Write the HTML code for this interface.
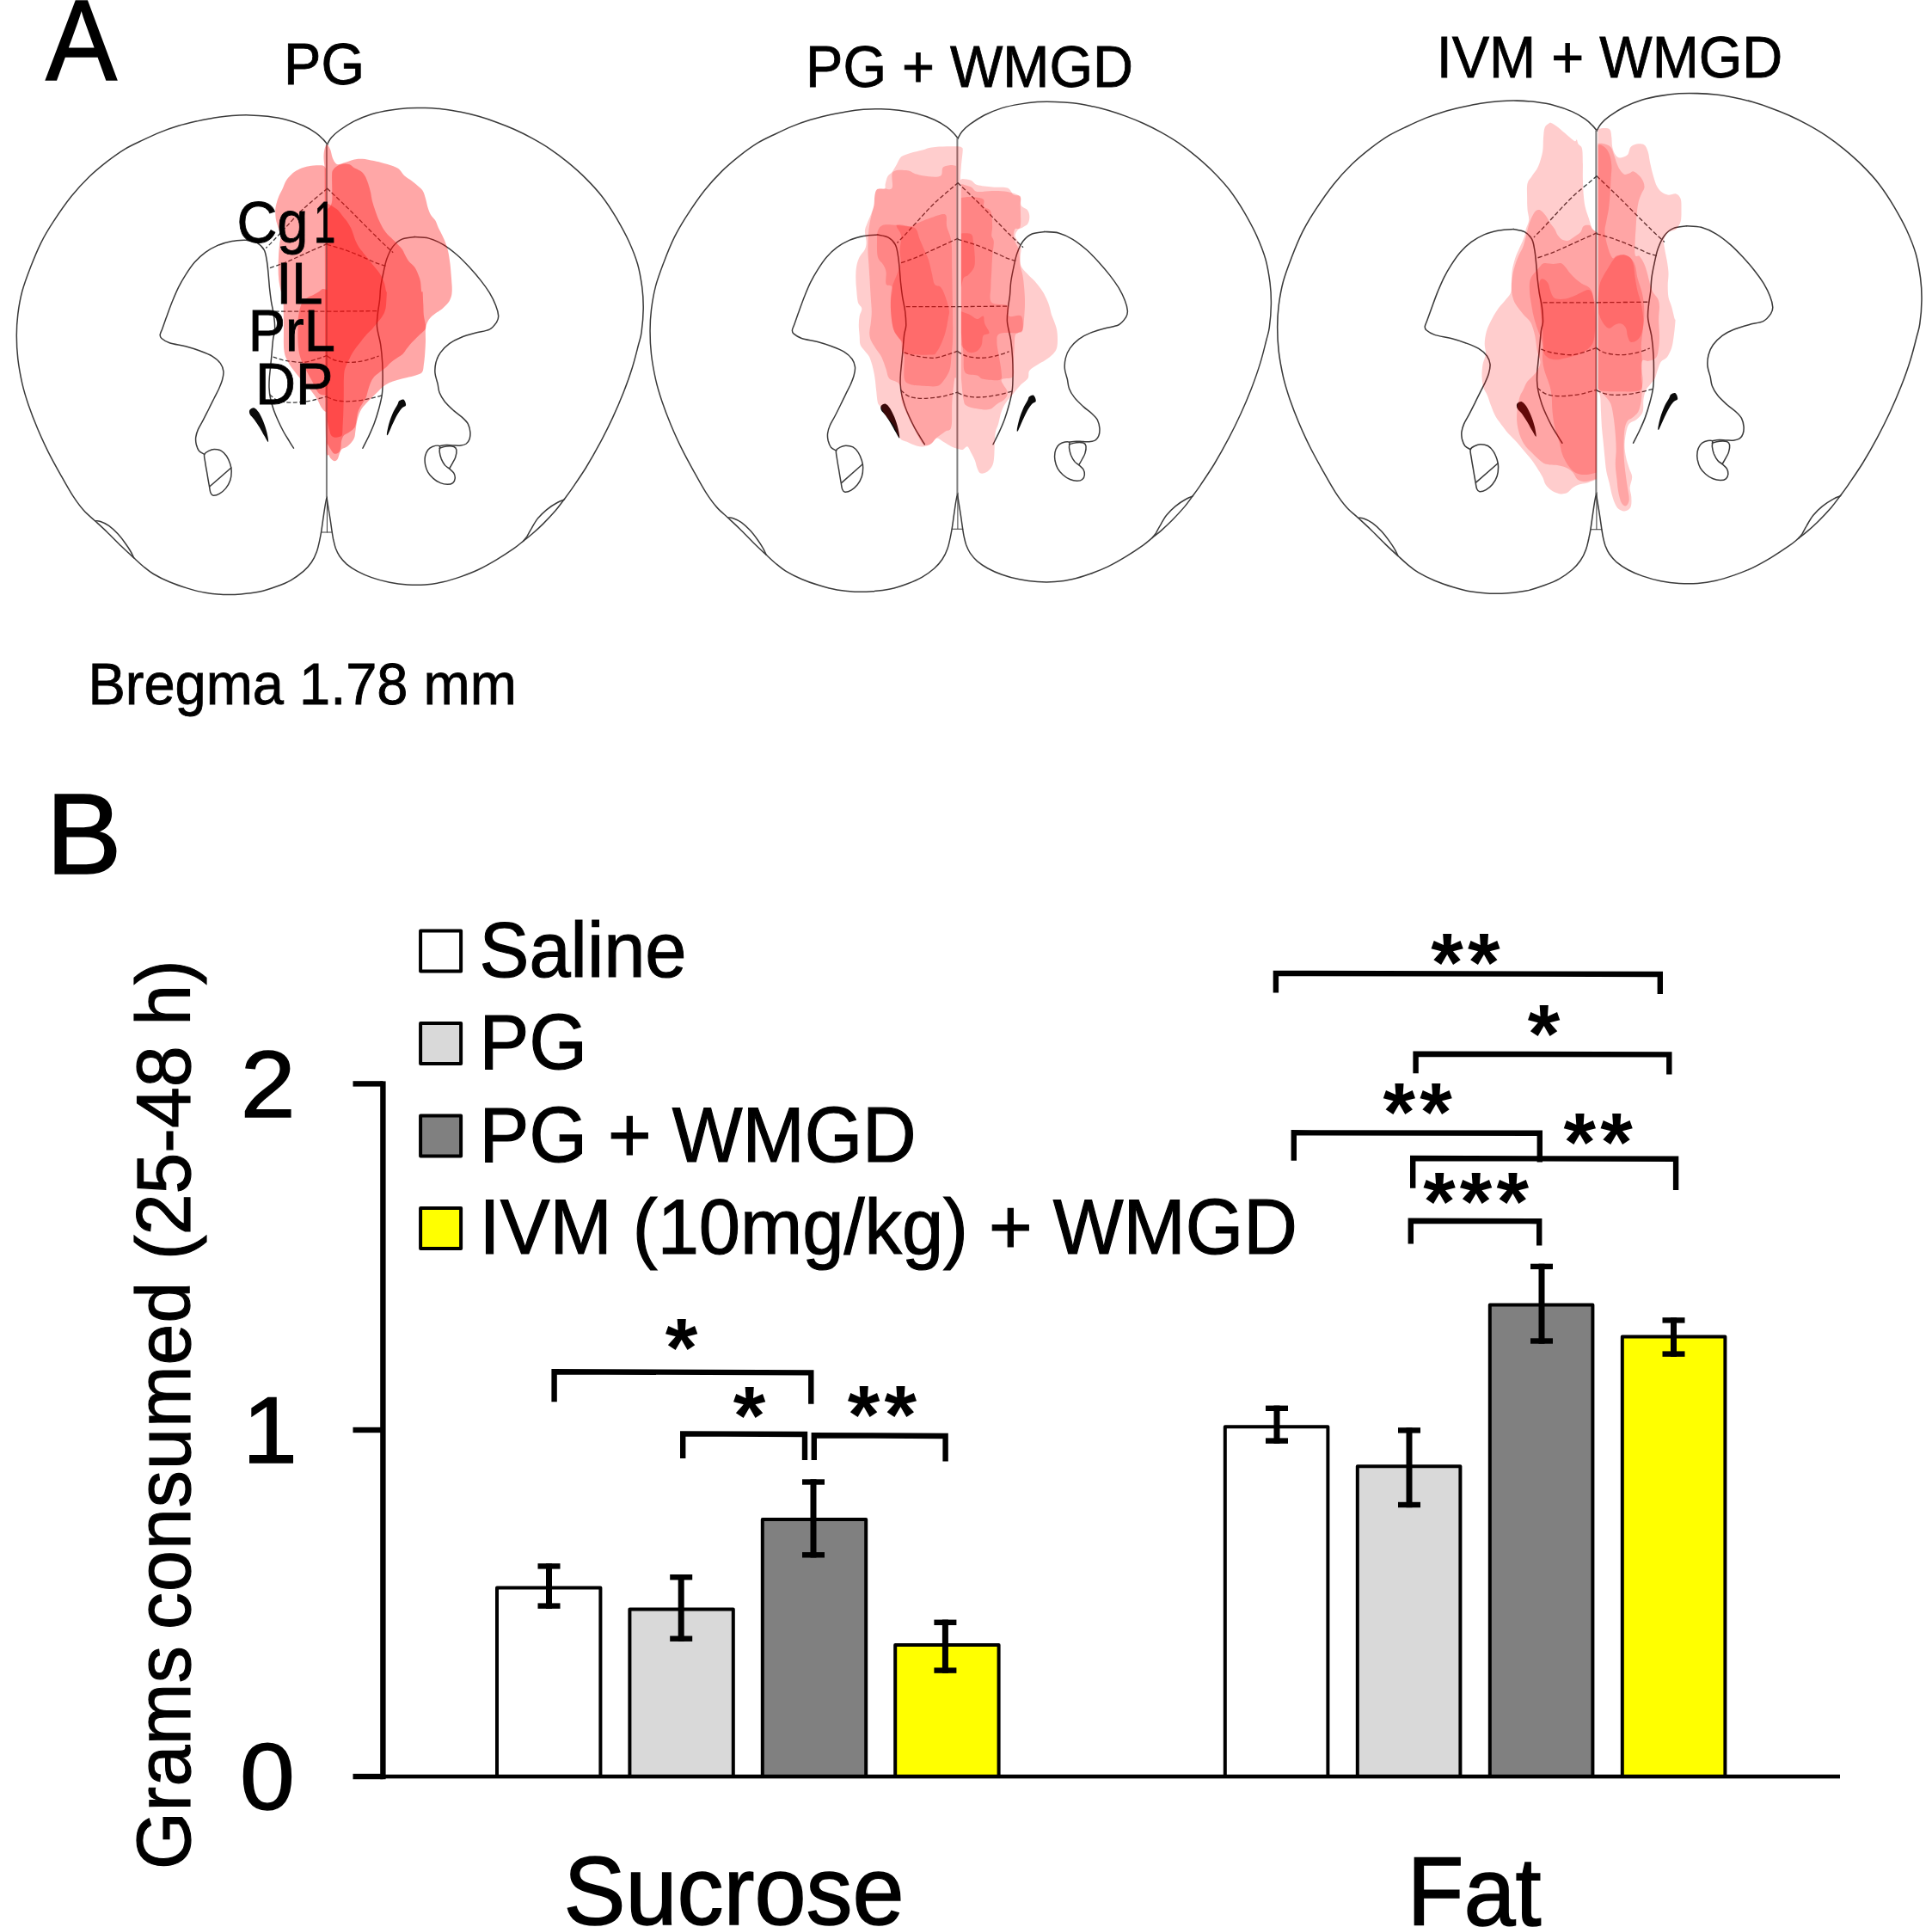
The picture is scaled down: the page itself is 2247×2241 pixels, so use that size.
<!DOCTYPE html>
<html lang="en"><head><meta charset="utf-8"><title>Figure</title>
<style>
html,body{margin:0;padding:0;background:#fff;}
body{width:2247px;height:2241px;overflow:hidden;}
svg{display:block;}
text{font-family:'Liberation Sans', sans-serif;fill:#000;}
.b{font-weight:bold;}
</style></head><body>
<svg width="2247" height="2241" viewBox="0 0 2247 2241">
<rect width="2247" height="2241" fill="#fff"/>
<defs><g id="atlas"><g fill="none" stroke="#3a3a3a" stroke-width="1.5" stroke-linecap="round" stroke-linejoin="round"><path d="M380.9,168.1C380,167.1 378,164.1 375.7,161.9C373.5,159.6 371.2,157.2 367.4,154.6C363.6,152 358.8,148.9 352.9,146.3C347,143.7 339,140.9 332.1,139.1C325.2,137.2 318.3,136.2 311.4,135.3C304.4,134.5 297.5,134 290.6,133.9C283.7,133.7 276.8,134 269.8,134.5C262.9,135 256,135.9 249.1,137C242.2,138.1 235.3,139.6 228.3,141.1C221.4,142.7 214.5,144.3 207.6,146.3C200.7,148.4 193.7,150.8 186.8,153.6C179.9,156.4 173,159.6 166.1,162.9C159.1,166.2 152.2,169.2 145.3,173.3C138.4,177.5 131.5,182.5 124.5,187.8C117.6,193.2 110.7,198.7 103.8,205.5C96.9,212.2 89.9,219.7 83,228.3C76.1,237 68.2,248.4 62.3,257.4C56.4,266.4 52.2,273.3 47.7,282.3C43.2,291.3 38.9,302 35.3,311.3C31.7,320.7 28.4,329.3 25.9,338.3C23.5,347.3 21.9,356.7 20.8,365.3C19.7,374 19.3,381.6 19.3,390.2C19.3,398.9 19.7,408 20.8,417.4C21.9,426.7 23.9,437.4 25.9,446.4C28,455.4 30.3,462.7 33.2,471.3C36.2,480 39.8,489.3 43.6,498.3C47.4,507.3 51.5,516.3 56,525.3C60.5,534.3 65.7,543.6 70.6,552.3C75.4,560.9 80.6,570.3 85.1,577.2C89.6,584.1 93.2,589 97.6,593.8C101.9,598.6 106.6,602.1 111.1,606.3C115.6,610.4 119.5,613.9 124.5,618.7C129.6,623.6 136,630.3 141.2,635.3C146.3,640.3 151.5,645 155.7,648.8C159.8,652.6 162.3,655 166.1,658.2C169.9,661.3 173.3,664.4 178.5,667.5C183.7,670.6 190.6,674.1 197.2,676.8C203.8,679.6 211,682 218,684.1C224.9,686.2 231.8,688.1 238.7,689.3C245.6,690.5 252.6,691.1 259.5,691.4C266.4,691.6 273.3,691.5 280.2,690.9C287.1,690.4 294.1,689.7 301,688.3C307.9,686.8 315.5,684.3 321.7,682C328,679.8 333.2,677.7 338.3,674.8C343.5,671.8 348.9,667.8 352.9,664.4C356.9,660.9 359.6,657.8 362.2,654C364.8,650.2 366.9,645.7 368.4,641.5C370,637.4 370.7,632.9 371.6,629.1C372.4,625.3 372.9,622.9 373.6,618.7C374.3,614.6 375,609.4 375.7,604.2C376.5,599 377.4,592.1 378.2,587.6C379,583.1 379.9,578.9 380.3,577.2"/><path d="M380.4,168.1C381.2,166.7 383.1,162.6 385.6,159.8C388,157.1 390.6,154.6 394.9,151.5C399.2,148.4 405.3,144.3 411.5,141.1C417.7,138 425.4,135 432.3,132.8C439.2,130.7 446.1,129.4 453,128.3C459.9,127.1 466.9,126.2 473.8,125.8C480.7,125.3 487.6,125.4 494.5,125.6C501.5,125.8 508.4,126.2 515.3,127C522.2,127.8 529.1,129 536.1,130.3C543,131.7 549.9,133.4 556.8,135.3C563.7,137.3 570.7,139.6 577.6,142.2C584.5,144.7 591.4,147.4 598.3,150.5C605.3,153.6 612.2,157.1 619.1,160.9C626,164.7 632.9,168.6 639.8,173.3C646.8,178 653.7,183.2 660.6,188.9C667.5,194.6 674.8,201 681.4,207.6C687.9,214.1 694.2,220.7 700,228.3C705.9,235.9 711.5,244.6 716.7,253.2C721.8,261.9 727,271.2 731.2,280.2C735.3,289.2 739,298.2 741.6,307.2C744.2,316.2 745.6,325.5 746.8,334.2C747.9,342.8 748.3,350.4 748.2,359.1C748.1,367.7 747.1,379.1 746.1,386.1C745.2,393 744.4,393.8 742.6,400.8C740.8,407.7 738.3,418.4 735.3,427.7C732.4,437.1 728.8,447.1 725,456.8C721.2,466.5 717,476.2 712.5,485.9C708,495.6 703.2,505.2 698,514.9C692.8,524.6 686.9,535 681.4,544C675.8,553 668.9,562.8 664.8,568.9C660.6,574.9 659.6,576.2 656.5,580.3C653.3,584.5 650.2,589 646.1,593.8C641.9,598.6 636,604.9 631.5,609.4C627,613.9 622.9,617.5 619.1,620.8C615.3,624.1 612.2,626.3 608.7,629.1C605.3,631.9 603.5,633.8 598.3,637.4C593.1,641 584.5,646.7 577.6,650.9C570.7,655 563.7,659 556.8,662.3C549.9,665.6 543,668.2 536.1,670.6C529.1,673 522.2,675.3 515.3,676.8C508.4,678.4 501.5,679.4 494.5,679.9C487.6,680.5 480.7,680.4 473.8,679.9C466.9,679.5 459.9,678.6 453,677.2C446.1,675.9 438.5,673.8 432.3,671.6C426,669.5 420.5,667 415.7,664.4C410.8,661.8 406.7,659 403.2,656.1C399.8,653.1 397.1,649.8 394.9,646.7C392.8,643.6 391.6,640.7 390.3,637.4C389.1,634.1 388.3,630.1 387.6,627C387,623.9 386.8,622.5 386.2,618.7C385.6,614.9 384.9,609.4 384.1,604.2C383.3,599 382.1,591.9 381.4,587.6C380.7,583.3 380.2,579.8 380,578.2"/><path d="M111.1,605.8C111.9,605.9 113.6,605.3 116.2,606.3C118.8,607.2 123.2,609 126.6,611.4C130.1,613.9 133.9,617.5 137,620.8C140.1,624.1 142.9,627.9 145.3,631.2C147.7,634.5 149.8,637.6 151.5,640.5C153.3,643.4 155,647.4 155.7,648.8"/><path d="M656.5,580.9C655.1,581.5 651.6,582.5 648.2,584.5C644.7,586.4 639.5,589.7 635.7,592.8C631.9,595.9 628.3,599.5 625.3,603.1C622.4,606.8 620.1,611.1 618.1,614.6C616,618 614.4,621.5 612.9,623.9C611.3,626.3 609.4,628.2 608.7,629.1"/><path d="M286.5,279.2C283.7,279.4 275.4,279.6 269.8,280.6C264.3,281.7 258.4,283.2 253.2,285.4C248.1,287.6 243.2,290.4 238.7,293.7C234.2,297 230.1,300.8 226.3,305.1C222.5,309.4 219,314.8 215.9,319.7C212.8,324.5 210.2,329 207.6,334.2C205,339.4 202.6,345.3 200.3,350.8C198.1,356.3 196,362.2 194.1,367.4C192.2,372.6 190.2,378.3 188.9,381.9C187.6,385.6 186.4,387.3 186.2,389.2C186,391.1 186,391.9 187.9,393.5C189.7,395.1 192.5,397.1 197.2,398.7C201.9,400.2 210,401.3 215.9,402.8C221.8,404.4 227.3,406.1 232.5,408C237.7,409.9 243,411.8 247,414.3C251,416.7 254.2,419.6 256.4,422.6C258.5,425.5 259.5,428.6 259.9,431.9C260.2,435.2 259.4,438.8 258.4,442.3C257.5,445.7 255.8,449.2 254.3,452.7C252.7,456.1 251,459.2 249.1,463C247.2,466.8 244.9,471.3 242.9,475.5C240.8,479.6 238.7,484 236.6,487.9C234.6,491.9 231.9,495.9 230.4,499.4C228.9,502.8 228.1,505.8 227.7,508.7C227.4,511.6 227.7,514.4 228.3,517C229,519.6 229.9,522.4 231.4,524.3C233,526.2 236.6,527.7 237.7,528.4"/><path d="M286.5,279.2C288.5,279.7 295.5,280.4 298.9,282.3C302.4,284.2 305.3,287.1 307.2,290.6C309.1,294.1 309.5,298.5 310.3,303C311.1,307.5 311.5,312.4 312,317.6C312.5,322.8 312.9,328.6 313.4,334.2C314,339.7 314.7,345.3 315.5,350.8C316.4,356.3 317.9,361.9 318.6,367.4C319.3,372.9 319.8,379.5 319.7,384C319.5,388.5 318.3,389 317.6,394.5C316.9,400.1 316.2,410.1 315.5,417.4C314.8,424.6 313.9,432.6 313.4,438.1C313,443.7 312.9,446.4 313,450.6C313.2,454.7 313.5,458.5 314.5,463C315.4,467.5 317.1,473.1 318.6,477.6C320.2,482.1 321.9,485.9 323.8,490C325.7,494.2 328,498.7 330,502.5C332.1,506.3 334.4,509.7 336.3,512.8C338.2,516 340.6,519.8 341.5,521.2"/><path d="M482.1,275.6C484.9,275.9 493.2,275.6 498.7,277.1C504.2,278.6 509.8,281.1 515.3,284.4C520.8,287.7 526.7,292.3 531.9,296.8C537.1,301.3 541.9,306.5 546.4,311.3C550.9,316.2 555.1,321 558.9,325.9C562.7,330.7 566.3,335.6 569.3,340.4C572.2,345.3 574.8,350.4 576.5,354.9C578.3,359.4 579.5,364.1 579.7,367.4C579.8,370.7 579.3,372 577.6,374.7C575.8,377.3 573.4,381 569.3,383.1C565.1,385.2 558.2,385.7 552.7,387.3C547.1,388.8 541.1,390.4 536.1,392.5C531,394.5 526.5,396.8 522.6,399.7C518.6,402.7 514.8,406.5 512.2,410.1C509.6,413.7 508,417.5 507,421.5C506,425.5 505.6,429.8 506,434C506.3,438.1 508.2,442.6 509.1,446.4C509.9,450.2 509.8,453.3 511.2,456.8C512.5,460.3 514.6,463.7 517.4,467.2C520.1,470.6 524.3,474.4 527.8,477.6C531.2,480.7 535.4,483.3 538.1,485.9C540.9,488.5 542.9,490.4 544.4,493.1C545.8,495.9 546.6,499.5 546.9,502.5C547.1,505.4 546.8,508.5 546,510.8C545.3,513 543.9,514.8 542.3,516C540.6,517.2 538.5,517.7 536.1,518C533.6,518.4 530.5,518.1 527.8,518C525,518 522.2,517.5 519.5,517.6C516.7,517.7 512.5,518.5 511.2,518.7"/><path d="M482.1,275.6C479.7,276.1 471.7,276.3 467.6,278.1C463.4,279.9 460.1,282.6 457.2,286.4C454.2,290.2 451.8,295.8 449.9,301C448,306.2 447,312 445.8,317.6C444.6,323.1 443.3,329 442.7,334.2C442,339.4 442.1,343.9 441.6,348.7C441.1,353.6 440.1,358.1 439.5,363.2C439,368.4 438,373.6 438.5,379.8C439,386.1 441.6,393.8 442.7,400.8C443.7,407.7 444.3,414.6 444.7,421.5C445.1,428.4 445.2,436 445.1,442.3C445.1,448.5 445.1,453.3 444.3,458.9C443.6,464.4 442.1,469.9 440.6,475.5C439.1,481 437.3,486.9 435.4,492.1C433.5,497.3 431.4,501.8 429.2,506.6C426.9,511.5 423.1,518.7 421.9,521.2"/><path d="M511.2,521.2C512.5,520.8 516.7,519.4 519.5,519.1C522.2,518.8 525.9,518.8 527.8,519.5C529.7,520.2 530.5,521.2 530.9,523.2C531.2,525.2 530.5,529.1 529.8,531.5C529.1,534 527.9,535.5 526.7,537.8C525.5,540 523.3,543.8 522.6,545"/><path d="M237.7,528.4C238.4,526.2 241,525.2 242.9,524.3C244.8,523.3 246.7,522.6 249.1,522.6C251.5,522.6 255,523 257.4,524.3C259.8,525.6 261.9,527.9 263.6,530.5C265.4,533.1 266.8,536.9 267.8,539.8C268.7,542.8 269.2,545 269.2,548.1C269.2,551.3 268.9,555.2 267.8,558.5C266.7,561.8 264.7,565.3 262.6,567.9C260.5,570.5 257.7,572.7 255.3,574.1C252.9,575.5 249.8,576.3 248.1,576.2C246.3,576 245.7,574.9 244.9,573C244.1,571.1 244,568.5 243.3,564.7C242.6,560.9 241.5,554.7 240.8,550.2C240,545.7 239.2,541.4 238.7,537.8C238.2,534.1 237,530.7 237.7,528.4Z"/><path d="M511.2,518.7C509.8,517.7 505.1,518.7 502.8,519.5C500.6,520.3 499,521.4 497.7,523.2C496.3,525.1 495.1,527.7 494.5,530.5C494,533.3 494,536.7 494.5,539.8C495.1,542.9 496.1,546.4 497.7,549.2C499.2,551.9 501.5,554.4 503.9,556.4C506.3,558.5 509.4,560.5 512.2,561.6C515,562.8 518.1,563.3 520.5,563.3C522.9,563.3 525.3,562.8 526.7,561.6C528.2,560.5 529,558.3 529.2,556.4C529.4,554.5 528.9,552.1 527.8,550.2C526.7,548.3 524.3,546.6 522.6,545C520.8,543.5 518.9,542.8 517.4,540.9C515.8,539 514.3,536.2 513.2,533.6C512.2,531 511.5,527.8 511.2,525.3C510.8,522.8 512.5,519.6 511.2,518.7Z"/><path d="M243.9,565.8 L268.8,544"/><path d="M379.9,168.1 L379.9,578" stroke-width="2" stroke="#7d7d7d"/><path d="M380.4,578 L380.4,619 M373.7,619 L386.4,619" stroke-width="1"/></g><g fill="none" stroke="#3a3a3a" stroke-width="1.3" stroke-dasharray="5 2.5"><path d="M380.9,219C376.2,223 361,235.2 352.9,242.8C344.8,250.5 338,258.4 332.1,264.6C326.2,270.9 321.4,276.2 317.6,280.2C313.8,284.2 310.7,287.1 309.3,288.5"/><path d="M380.9,283.3C376.2,285.4 361,292.1 352.9,295.8C344.8,299.4 339,302.4 332.1,305.1C325.2,307.9 314.8,311.2 311.4,312.4"/><path d="M319.7,362.2C329.9,362.2 370.7,362.2 380.9,362.2"/><path d="M317.6,415.1C320,415.8 326.2,418.3 332.1,419.3C338,420.3 346.7,421.7 352.9,421.4C359.1,421 364.8,418.6 369.5,417.2C374.2,415.8 379,413.8 380.9,413.1"/><path d="M313.4,458.7C315.2,459.9 319.3,464.4 323.8,466C328.3,467.6 334.2,468.1 340.4,468.1C346.7,468.1 355.6,466.9 361.2,466C366.7,465.1 370.4,463.7 373.6,462.9C376.9,462 379.7,461.2 380.9,460.8"/><path d="M380.4,219C383.8,222.3 394.2,232 401.1,238.7C408.1,245.4 415,252.5 421.9,259.5C428.8,266.4 436.8,274.5 442.7,280.2C448.5,285.9 454.8,291.5 457.2,293.7"/><path d="M380.4,284.4C383.8,285.4 394.2,288.2 401.1,290.6C408.1,293 415.7,296.3 421.9,298.9C428.1,301.5 433.8,304.4 438.5,306.2C443.2,308 448,309.1 449.9,309.7"/><path d="M380.4,362.2C390.2,362.1 429.7,361.7 439.5,361.6"/><path d="M380.4,414.1C382.1,415 386.3,418.1 390.8,419.3C395.3,420.5 401.8,421.4 407.4,421.4C412.9,421.4 418.4,420.5 424,419.3C429.5,418.1 437.8,415 440.6,414.1"/><path d="M380.4,461.8C382.5,462.5 388,465.2 392.8,466C397.7,466.8 403.6,467 409.4,466.6C415.3,466.3 422.2,465.1 428.1,463.9C434,462.8 442,460.5 444.7,459.8"/></g><path d="M290.6,476.5C291.5,475.3 294.1,473.9 295.8,474.4C297.5,475 299.3,477 301,479.6C302.7,482.2 304.6,486.2 306.2,490C307.7,493.8 309.4,498.5 310.3,502.5C311.3,506.4 312.5,513.2 312,513.9C311.5,514.6 308.9,509.4 307.2,506.6C305.6,503.9 303.9,500.4 302,497.3C300.1,494.2 297.7,490.5 295.8,487.9C293.9,485.3 291.5,483.6 290.6,481.7C289.7,479.8 289.7,477.7 290.6,476.5Z" fill="#0a0a0a"/><path d="M469.6,464.7C470.9,465.6 472.5,469.7 472.1,471.3C471.8,473 469.2,472.7 467.6,474.4C465.9,476.2 464.1,478.8 462.4,481.7C460.6,484.7 459,488.2 457.2,492.1C455.3,496 452.6,502.9 451.4,505C450.2,507 449.7,506.7 449.9,504.5C450.1,502.4 451.4,496.2 452.6,492.1C453.8,487.9 455.6,483.3 457.2,479.6C458.8,476 461.2,472.5 462.4,470.3C463.6,468 463.2,467.1 464.4,466.1C465.7,465.2 468.4,463.8 469.6,464.7Z" fill="#0a0a0a"/></g></defs>
<g id="brain1">
<use href="#atlas"/>
<path d="M377.6,194.5C377.4,192.5 376.5,186 376.5,182.4C376.5,178.8 376.9,175.3 377.6,172.9C378.3,170.6 379.4,168 380.6,168.2C381.7,168.4 383.4,171.9 384.3,174.3C385.3,176.6 385.5,179.9 386.4,182.4C387.3,184.9 388.6,187.7 389.7,189.1C390.8,190.6 391.2,191.2 393.1,191.2C395,191.2 398,190.1 401.2,189.1C404.3,188.2 408.6,186.1 412,185.4C415.4,184.6 417.6,184.5 421.4,184.8C425.3,185.1 430.9,186.3 434.9,187.1C439,187.9 442.3,188.9 445.7,189.8C449.1,190.7 452.1,191.4 455.2,192.5C458.2,193.6 461.5,194.6 463.9,196.5C466.4,198.5 467.4,201.6 470,204C472.6,206.3 476.5,208.5 479.4,210.7C482.4,213 485.4,215.4 487.5,217.5C489.7,219.5 491,220.6 492.3,222.9C493.5,225.1 494.1,227.8 495,231C495.9,234.1 496.7,238.6 497.7,241.7C498.7,244.9 499.6,247.4 501,249.8C502.5,252.3 505,254.1 506.4,256.6C507.9,259.1 508.5,261.8 509.8,264.7C511.2,267.6 513.1,271 514.5,274.1C516,277.3 517.5,280.4 518.6,283.6C519.7,286.7 520.5,289.4 521.3,293C522.1,296.6 522.7,300.9 523.3,305.2C523.9,309.4 524.3,314.2 524.6,318.7C525,323.2 525.4,328.6 525.6,332.1C525.8,335.7 525.8,337.8 525.6,340C525.4,342.2 525.4,343.4 524.6,345.4C523.9,347.4 523,349.9 521.3,352.1C519.6,354.4 516.8,357 514.5,358.9C512.3,360.8 510,361.9 507.8,363.6C505.5,365.3 502.8,367.1 501,369C499.2,370.9 498,372.7 497,375.1C496,377.4 495.3,379.6 495,383.2C494.6,386.8 495.1,392.2 495,396.7C494.9,401.2 494.6,405.7 494.3,410.2C494,414.7 493.5,419.8 492.9,423.7C492.4,427.5 492.5,431 490.9,433.1C489.3,435.2 486.5,435.5 483.5,436.5C480.5,437.5 476.3,438.3 472.7,439.2C469.1,440.1 465.3,440.9 461.9,441.9C458.5,442.9 455.3,443.9 452.5,445.2C449.7,446.6 447.3,448.2 445,450C442.8,451.8 441.1,453.9 439,456C436.8,458.2 434.5,460.5 432.2,462.8C430,465 427.5,467.3 425.5,469.5C423.5,471.8 421.5,473.8 420.1,476.3C418.6,478.7 417.6,481.7 416.7,484.4C415.8,487.1 415.2,489.5 414.7,492.5C414.1,495.4 413.8,499.1 413.3,501.9C412.9,504.7 412.9,507.1 412,509.3C411.1,511.6 409.5,513.6 407.9,515.4C406.4,517.2 404.3,518.9 402.5,520.1C400.7,521.4 398.5,521.4 397.1,522.8C395.8,524.3 395.2,527 394.4,528.9C393.7,530.8 393.3,533.1 392.4,534.3C391.5,535.5 390.3,536.4 389.1,536.3C387.8,536.2 386.1,534.9 385,533.6C383.9,532.4 383.2,530.4 382.3,528.9C381.4,527.4 380.3,533.8 379.6,524.8C378.9,515.9 378.5,483.2 378.3,474.9Z" fill="#ff0a0a" fill-opacity="0.36"/>
<path d="M378.9,195.9C378.4,195.3 377.9,193.1 375.6,192.5C373.2,191.9 368.4,192.2 364.8,192.5C361.2,192.8 357.3,193.5 354,194.5C350.6,195.5 347.2,197 344.5,198.6C341.8,200.1 339.8,201.9 337.8,204C335.8,206 334,208 332.4,210.7C330.8,213.4 329.7,217.2 328.3,220.2C327,223.1 325.4,225.6 324.3,228.3C323.2,231 322.3,233.7 321.6,236.4C320.9,239.1 320.4,241.3 320.2,244.4C320.1,247.6 320.4,251.9 320.9,255.2C321.5,258.6 322.7,261.5 323.6,264.7C324.5,267.8 326.1,270.8 326.3,274.1C326.5,277.5 325.3,280.9 325,284.9C324.6,289 324.2,293.9 324,298.4C323.8,302.9 323.6,307.4 323.6,311.9C323.7,316.4 323.7,320.9 324.3,325.4C324.8,329.9 326.2,336.5 327,338.9C327.8,341.3 328.6,337.6 329,340C329.5,342.4 329.5,346.7 329.7,353.5C329.8,360.2 329.8,371.5 330,380.5C330.1,389.5 329.5,400.7 330.4,407.5C331.2,414.2 332.7,416.5 335.1,421C337.4,425.5 341.4,430.4 344.5,434.4C347.7,438.5 351,441.9 354,445.2C356.9,448.6 359.6,451.5 362.1,454.7C364.5,457.8 366.9,461 368.8,464.1C370.7,467.3 372.1,471.2 373.5,473.6C375,475.9 376.6,477.4 377.6,478.3C378.6,479.2 379.3,478.9 379.6,479Z" fill="#ff0a0a" fill-opacity="0.36"/>
<path d="M380.6,243.1C381.2,242.5 383.4,241.7 384.3,239.7C385.3,237.7 386.1,236.9 386.4,231C386.6,225 385.9,209.6 386.1,204C386.3,198.3 386.5,199.1 387.7,197.2C388.9,195.3 391.1,193.6 393.1,192.5C395.1,191.4 397.6,190.7 399.8,190.5C402.1,190.3 404.6,190.4 406.6,191.2C408.6,191.9 410,194 412,195.2C414,196.4 416.7,197.1 418.7,198.6C420.8,200 422.6,201.5 424.1,204C425.7,206.4 427.1,210.3 428.2,213.4C429.3,216.6 430.1,219.5 430.9,222.9C431.7,226.2 432,230.1 432.9,233.7C433.8,237.3 435,240.8 436.3,244.4C437.5,248 438.9,251.9 440.3,255.2C441.8,258.6 443.5,262 445,264.7C446.6,267.4 448.1,269.4 449.8,271.4C451.5,273.5 453.1,274.8 455.2,276.8C457.2,278.9 459.8,281.3 461.9,283.6C464,285.8 466.4,288.1 468,290.3C469.6,292.6 470.1,294.8 471.4,297.1C472.6,299.3 473.6,301.6 475.4,303.8C477.2,306.1 480.3,308.1 482.1,310.6C483.9,313 485.1,316 486.2,318.7C487.3,321.4 488.2,323.4 488.9,326.8C489.6,330.1 489.8,336.7 490.2,338.9C490.7,341.1 491.3,337.6 491.6,340C491.9,342.4 492,349 492.3,353.5C492.5,358 492.5,362.9 492.9,367C493.4,371 494.7,375.1 495,377.8C495.2,380.5 495.3,381.4 494.3,383.2C493.3,385 490.9,386.5 488.9,388.6C486.9,390.6 484.2,393.3 482.1,395.3C480.1,397.3 478.3,398.9 476.8,400.7C475.2,402.5 474.1,404.3 472.7,406.1C471.4,407.9 470.5,409.8 468.7,411.5C466.9,413.2 464.2,414.7 461.9,416.2C459.7,417.8 457.2,419.3 455.2,421C453.1,422.6 451.8,424.6 449.8,426.4C447.7,428.2 445.3,429.9 443,431.7C440.8,433.5 438.1,435.3 436.3,437.1C434.5,438.9 433.4,440.5 432.2,442.5C431.1,444.6 430.3,447 429.5,449.3C428.7,451.5 428.2,453.8 427.5,456C426.8,458.3 426.5,460.5 425.5,462.8C424.5,465 422.7,467.5 421.4,469.5C420.2,471.6 419,473.1 418.1,474.9C417.2,476.7 416.6,478.1 416,480.3C415.5,482.6 415.1,485.9 414.7,488.4C414.2,490.9 414,493.4 413.3,495.2C412.7,497 412,497.9 410.6,499.2C409.3,500.6 407,502 405.2,503.3C403.4,504.5 401.2,505.1 399.8,506.6C398.5,508.2 397.7,510.6 397.1,512.7C396.6,514.8 396.8,517.4 396.5,519.4C396.1,521.5 395.9,523.5 395.1,524.8C394.3,526.2 393,527.2 391.7,527.5C390.5,527.9 388.9,527.8 387.7,526.9C386.5,526 385.5,524.1 384.3,522.1C383.1,520.2 381.2,516.5 380.6,515.4Z" fill="#ff0a0a" fill-opacity="0.36"/>
<path d="M380.6,337.3C379.7,337.1 377.1,335.7 375.6,336C374.1,336.2 373.3,337.5 371.5,338.7C369.7,339.8 367.2,341.3 364.8,342.7C362.3,344 359,344.9 356.7,346.7C354.3,348.5 352.2,350.1 350.6,353.5C349,356.9 347.9,362.5 347.2,367C346.5,371.5 346.7,375.5 346.5,380.5C346.4,385.4 346.3,391.7 346.5,396.7C346.8,401.6 347.1,406.1 347.9,410.2C348.7,414.2 349.8,417.4 351.3,421C352.7,424.6 354.6,427.9 356.7,431.7C358.7,435.6 361.4,440.1 363.4,443.9C365.4,447.7 367.2,452.2 368.8,454.7C370.4,457.2 370.9,457.8 372.9,458.7C374.8,459.6 379.3,459.9 380.6,460.1Z" fill="#ff0a0a" fill-opacity="0.36"/>
<path d="M380.6,236.4C381.5,236.9 384.3,238.4 386.4,239.7C388.4,241.1 391.1,242.5 393.1,244.4C395.1,246.4 396.7,248.9 398.5,251.2C400.3,253.4 402.3,255.7 403.9,257.9C405.5,260.2 406.8,262.4 407.9,264.7C409.1,266.9 409.7,269 410.6,271.4C411.5,273.9 412.2,276.8 413.3,279.5C414.5,282.2 415.8,285.1 417.4,287.6C419,290.1 421,292.1 422.8,294.4C424.6,296.6 426.4,298.9 428.2,301.1C430,303.4 431.8,305.6 433.6,307.9C435.4,310.1 437.3,312.4 439,314.6C440.7,316.9 442.3,318.9 443.7,321.4C445,323.8 446.2,326.5 447.1,329.4C448,332.4 448.6,337.1 449.1,338.9C449.5,340.7 449.8,337.6 449.8,340C449.8,342.4 449.4,349.9 449.1,353.5C448.8,357.1 448.5,359.1 447.7,361.6C447,364.1 445.8,366.1 444.4,368.3C442.9,370.6 440.8,372.8 439,375.1C437.2,377.3 435.6,379.6 433.6,381.8C431.6,384.1 429.1,386.1 426.8,388.6C424.6,391 422.1,394.2 420.1,396.7C418.1,399.1 416.4,401.2 414.7,403.4C413,405.7 411.3,407.9 410,410.2C408.6,412.4 407.7,414.7 406.6,416.9C405.5,419.2 404.2,421.2 403.2,423.7C402.2,426.1 401.1,428.6 400.5,431.7C400,434.9 400,438.5 399.8,442.5C399.7,446.6 399.9,451.5 399.8,456C399.8,460.5 399.7,465 399.6,469.5C399.5,474 399.3,478.5 399.2,483C399,487.5 398.7,492.7 398.5,496.5C398.3,500.3 398.5,504 397.8,506C397.1,507.9 395.9,507.5 394.4,508C393,508.4 390.6,509 389.1,508.7C387.5,508.3 386,507.5 385,506C384,504.4 383.7,502.1 383,499.2C382.2,496.3 381,490.2 380.6,488.4Z" fill="#ff0a0a" fill-opacity="0.36"/>
</g>
<g id="brain2">
<use href="#atlas" transform="translate(1113.9,161.2) scale(0.991,1.007) translate(-380.4,-168.1)"/>
<path d="M1117,207.9C1117.3,210.4 1117.6,207.6 1119.7,207.9C1121.7,208.2 1126.6,208.5 1129.4,209.7C1132.2,210.9 1132.3,213.7 1136.4,215C1140.6,216.3 1148.2,217 1154.1,217.6C1160,218.2 1167.6,217 1171.7,218.5C1175.8,220 1176.3,224.8 1178.8,226.5C1181.3,228.1 1185.3,226.2 1186.7,228.2C1188.2,230.3 1186.3,236.2 1187.6,238.8C1188.9,241.5 1193,242 1194.7,244.1C1196.3,246.2 1197.2,248.5 1197.3,251.2C1197.5,253.8 1196.9,257.8 1195.5,260C1194.2,262.2 1191.3,263.2 1189.4,264.4C1187.5,265.6 1185.5,265.4 1184.1,267C1182.6,268.7 1180.6,271.7 1180.6,274.1C1180.6,276.4 1182.9,278.8 1184.1,281.2C1185.3,283.5 1187.2,285.3 1187.6,288.2C1188,291.2 1186.7,295.3 1186.7,298.8C1186.7,302.3 1186.3,306.1 1187.6,309.4C1188.9,312.6 1192,315.3 1194.7,318.2C1197.3,321.1 1200.8,324.1 1203.5,327C1206.1,330 1208.5,332.9 1210.5,335.8C1212.6,338.8 1214.2,341.4 1215.8,344.7C1217.5,347.9 1219.1,351.7 1220.2,355.3C1221.4,358.8 1221.9,362.6 1222.9,365.8C1223.9,369.1 1225.4,371.7 1226.4,374.7C1227.5,377.6 1228.5,380.3 1229.1,383.5C1229.7,386.7 1230,390.5 1230,394.1C1230,397.6 1230,401.7 1229.1,404.7C1228.2,407.6 1226.9,409.4 1224.7,411.7C1222.5,414.1 1218.8,416.7 1215.8,418.8C1212.9,420.8 1210.1,422 1207,424.1C1203.9,426.1 1199.2,428.5 1197.3,431.1C1195.4,433.8 1197.2,437.3 1195.5,439.9C1193.9,442.6 1190.4,444.1 1187.6,447C1184.8,449.9 1181.7,454.1 1178.8,457.6C1175.8,461.1 1172.3,464.6 1170,468.2C1167.6,471.7 1166.1,474.6 1164.7,478.8C1163.2,482.9 1162.3,488.8 1161.1,492.9C1160,497 1158.3,498.8 1157.6,503.5C1156.9,508.2 1157,515.8 1156.7,521.1C1156.4,526.4 1156.4,531.5 1155.8,535.2C1155.3,538.9 1154.7,540.8 1153.2,543.2C1151.7,545.5 1149.2,548.2 1147,549.3C1144.8,550.5 1141.7,551.1 1140,550.2C1138.2,549.3 1137.5,546.5 1136.4,544C1135.4,541.5 1135,538.2 1133.8,535.2C1132.6,532.3 1130.9,529.1 1129.4,526.4C1127.9,523.8 1126.6,519.9 1125,519.3C1123.4,518.8 1121.4,522.4 1119.7,522.9C1117.9,523.3 1116.6,522.6 1114.4,522C1112.2,521.4 1109.2,520.7 1106.4,519.3C1103.7,518 1100.4,515.7 1097.6,514.1C1094.8,512.4 1092,509.3 1089.7,509.6C1087.3,509.9 1086,514.2 1083.5,515.8C1081,517.4 1077.6,518.9 1074.7,519.3C1071.7,519.8 1069.1,519.3 1065.9,518.5C1062.6,517.6 1058.5,515.5 1055.3,514.1C1052,512.6 1049.1,512.9 1046.5,509.6C1043.8,506.4 1042,498.9 1039.4,494.6C1036.8,490.4 1033.1,487.6 1030.6,484.1C1028.1,480.5 1026,476.1 1024.4,473.5C1022.8,470.8 1021.8,471.4 1020.9,468.2C1020,464.9 1019.7,459.1 1019.1,454.1C1018.5,449.1 1018.1,442.9 1017.3,438.2C1016.6,433.5 1015.7,429.7 1014.7,425.8C1013.7,422 1012.6,418.2 1011.2,415.2C1009.7,412.3 1007.6,410.5 1005.9,408.2C1004.1,405.8 1001.6,404.1 1000.6,401.1C999.6,398.2 1000,394.4 999.7,390.5C999.4,386.7 998.8,382 998.8,378.2C998.8,374.4 999.1,370.8 999.7,367.6C1000.3,364.4 1002.6,361.4 1002.3,358.8C1002.1,356.1 999,355.3 997.9,351.7C996.9,348.2 996.6,342.3 996.2,337.6C995.7,332.9 995.3,328.2 995.3,323.5C995.3,318.8 995.4,313.5 996.2,309.4C996.9,305.3 998.1,302 999.7,298.8C1001.3,295.6 1004.6,292.9 1005.9,290C1007.2,287 1007.6,284.7 1007.6,281.2C1007.6,277.6 1005.7,272.3 1005.9,268.8C1006,265.3 1007.3,263.2 1008.5,260C1009.7,256.7 1011.6,252.9 1012.9,249.4C1014.3,245.9 1015.7,242.3 1016.5,238.8C1017.2,235.3 1016.8,231.3 1017.3,228.2C1017.9,225.1 1018.1,221.8 1020,220.3C1021.9,218.8 1027.2,220.4 1028.8,219.4C1030.4,218.4 1029.1,216.5 1029.7,214.1C1030.3,211.8 1031,207.6 1032.3,205.3C1033.7,202.9 1035.9,202.3 1037.6,200C1039.4,197.6 1041.2,194.1 1042.9,191.2C1044.7,188.2 1045.6,184.6 1048.2,182.3C1050.9,180.1 1054.7,179.3 1058.8,177.9C1062.9,176.6 1068.8,175.5 1072.9,174.4C1077,173.3 1078.8,172.1 1083.5,171.4C1088.2,170.7 1096,170.5 1101.2,170.3C1106.3,170.2 1111.4,170.1 1114.4,170.3C1117.3,170.6 1117.9,170.9 1118.8,171.8C1119.7,172.6 1119.8,171.8 1119.7,175.3C1119.5,178.8 1118.4,187.5 1117.9,192.9C1117.5,198.4 1116.7,205.4 1117,207.9Z" fill="#ff0a0a" fill-opacity="0.205"/>
<path d="M1112.1,192.9C1111.2,192.8 1109,191.8 1106.4,192C1103.9,192.3 1098.8,192.6 1096.7,194.7C1094.7,196.8 1096.9,202.6 1094.1,204.4C1091.3,206.2 1084.7,205.6 1080,205.3C1075.3,205 1070,203.8 1065.9,202.6C1061.7,201.5 1059.8,198.7 1055.3,198.2C1050.7,197.8 1041.5,196.6 1038.5,200C1035.6,203.4 1039.3,215.3 1037.6,218.5C1036,221.8 1031.8,219.1 1028.8,219.4C1025.9,219.7 1021.9,218.8 1020,220.3C1018.1,221.8 1017.9,225.1 1017.3,228.2C1016.8,231.3 1017,235.3 1016.5,238.8C1015.9,242.3 1014.7,245.6 1013.8,249.4C1012.9,253.2 1011.8,257.6 1011.2,261.7C1010.5,265.9 1010.2,269.1 1009.9,274.1C1009.6,279.1 1009.3,286.4 1009.4,291.7C1009.5,297 1010,301.1 1010.3,305.9C1010.6,310.6 1010.9,315.3 1011.2,320C1011.5,324.7 1011.8,329.4 1012,334.1C1012.3,338.8 1012.6,343.5 1012.9,348.2C1013.2,352.9 1013.8,357.9 1013.8,362.3C1013.8,366.7 1013.4,370.5 1012.9,374.7C1012.5,378.8 1011.2,383.5 1011.2,387C1011.2,390.5 1011.8,392.9 1012.9,395.8C1014.1,398.8 1016.2,401.4 1018.2,404.7C1020.3,407.9 1023.2,411.1 1025.3,415.2C1027.3,419.4 1029.1,425.2 1030.6,429.4C1032,433.5 1031.8,437.3 1034.1,439.9C1036.5,442.6 1042.3,442.9 1044.7,445.2C1047,447.6 1047.6,450.8 1048.2,454.1C1048.8,457.3 1047.3,460.5 1048.2,464.6C1049.1,468.8 1051.2,473.5 1053.5,478.8C1055.9,484.1 1059.1,490.2 1062.3,496.4C1065.6,502.6 1069.7,512.4 1072.9,515.8C1076.2,519.2 1079,517.9 1081.7,516.7C1084.5,515.5 1086.7,511.3 1089.7,508.8C1092.6,506.3 1096.6,503.8 1099.4,501.7C1102.2,499.6 1105.1,502 1106.4,496.4C1107.8,490.8 1106.7,477.3 1107.3,468.2C1107.9,459.1 1109.2,446.4 1110,441.7C1110.8,437 1111.7,440.2 1112.1,439.9Z" fill="#ff0a0a" fill-opacity="0.205"/>
<path d="M1117.9,214.1C1119.8,214.7 1126.3,216.2 1129.4,217.6C1132.5,219.1 1132.3,222.2 1136.4,222.9C1140.6,223.7 1148.2,222 1154.1,222C1160,222 1166.4,221.9 1171.7,222.9C1177,224 1183.3,225.6 1185.8,228.2C1188.3,230.9 1186.6,232.9 1186.7,238.8C1186.9,244.7 1187.8,259 1186.7,263.5C1185.7,268.1 1181.9,264.4 1180.6,266.2C1179.2,267.9 1178.8,271.6 1178.8,274.1C1178.8,276.6 1179.5,278.5 1180.6,281.2C1181.6,283.8 1184.1,287 1185,290C1185.8,292.9 1185.5,295.6 1185.8,298.8C1186.1,302 1186.1,305.9 1186.7,309.4C1187.3,312.9 1188.6,315.9 1189.4,320C1190.1,324.1 1190.7,328.8 1191.1,334.1C1191.6,339.4 1192,345.8 1192,351.7C1192,357.6 1191.6,364.1 1191.1,369.4C1190.7,374.7 1190.5,380.5 1189.4,383.5C1188.2,386.4 1185.5,385.8 1184.1,387C1182.6,388.2 1181.3,387.6 1180.6,390.5C1179.8,393.5 1180,399.4 1179.7,404.7C1179.4,410 1179.1,416.7 1178.8,422.3C1178.5,427.9 1180.3,434.9 1177.9,438.2C1175.6,441.4 1165.7,438.8 1164.7,441.7C1163.6,444.7 1171.1,452 1171.7,455.8C1172.3,459.7 1170.3,462.3 1168.2,464.6C1166.1,467 1162.3,468 1159.4,469.9C1156.4,471.9 1154.4,475.2 1150.6,476.1C1146.7,477 1140.9,476 1136.4,475.2C1132,474.5 1126.7,473.5 1124.1,471.7C1121.4,469.9 1121.6,469.9 1120.6,464.6C1119.5,459.4 1118.4,444.1 1117.9,439.9Z" fill="#ff0a0a" fill-opacity="0.205"/>
<path d="M1099.4,249.4C1096.4,247.6 1089.1,251.2 1083.5,252.9C1077.9,254.7 1070,258.2 1065.9,260C1061.7,261.7 1062.6,263.2 1058.8,263.5C1055,263.8 1048.2,262 1042.9,261.7C1037.6,261.4 1030.7,260.6 1027,261.7C1023.4,262.9 1022,265.6 1020.9,268.8C1019.7,272 1020,276.2 1020,281.2C1020,286.2 1019.7,294.4 1020.9,298.8C1022,303.2 1025.4,304.7 1027,307.6C1028.7,310.6 1030,312.6 1030.6,316.4C1031.2,320.3 1029.4,327.6 1030.6,330.6C1031.8,333.5 1036.8,330.6 1037.6,334.1C1038.5,337.6 1036,345.8 1035.9,351.7C1035.7,357.6 1036.2,364.1 1036.8,369.4C1037.3,374.7 1038.1,379.7 1039.4,383.5C1040.7,387.3 1043.2,390 1044.7,392.3C1046.2,394.7 1047.5,395 1048.2,397.6C1049,400.2 1048.5,405.2 1049.1,408.2C1049.7,411.1 1051.3,410 1051.7,415.2C1052.2,420.5 1050.6,434.7 1051.7,439.9C1052.9,445.2 1055,445.5 1058.8,447C1062.6,448.5 1069.4,448.5 1074.7,448.8C1080,449.1 1086.4,450.2 1090.6,448.8C1094.7,447.3 1097,443.2 1099.4,439.9C1101.7,436.7 1103.5,433.5 1104.7,429.4C1105.9,425.2 1105.9,422.3 1106.4,415.2C1107,408.2 1108.1,403.5 1108.2,387C1108.4,370.5 1107.6,334.1 1107.3,316.4C1107,298.8 1107.5,290 1106.4,281.2C1105.4,272.3 1102.3,268.8 1101.2,263.5C1100,258.2 1102.3,251.2 1099.4,249.4Z" fill="#ff0a0a" fill-opacity="0.205"/>
<path d="M1117.9,230C1119.8,229.8 1125.1,228.8 1129.4,229.1C1133.6,229.4 1141,229.8 1143.5,231.7C1146,233.7 1142.9,238.2 1144.4,240.6C1145.9,242.9 1150.7,242 1152.3,245.9C1153.9,249.7 1153.9,258.8 1154.1,263.5C1154.2,268.2 1152.9,271.2 1153.2,274.1C1153.5,277 1155.7,277 1155.8,281.2C1156,285.3 1154.5,292.9 1154.1,298.8C1153.6,304.7 1153.5,310.6 1153.2,316.4C1152.9,322.3 1152.3,328.2 1152.3,334.1C1152.3,340 1150,348.2 1153.2,351.7C1156.4,355.3 1168.3,352.6 1171.7,355.3C1175.1,357.9 1170.8,365.5 1173.5,367.6C1176.1,369.7 1185,365 1187.6,367.6C1190.3,370.3 1190,380.3 1189.4,383.5C1188.8,386.7 1188.5,386.3 1184.1,387C1179.7,387.8 1167,386.1 1162.9,387.9C1158.8,389.7 1159.5,393 1159.4,397.6C1159.2,402.2 1161.1,409.4 1162,415.2C1162.9,421.1 1164.5,428.5 1164.7,432.9C1164.8,437.3 1166.4,440.4 1162.9,441.7C1159.4,443 1147.9,441.7 1143.5,440.8C1139.1,439.9 1140,437.7 1136.4,436.4C1132.9,435.1 1125,437 1122.3,432.9C1119.7,428.8 1121.3,419.4 1120.6,411.7C1119.8,404.1 1118.4,391.1 1117.9,387Z" fill="#ff0a0a" fill-opacity="0.205"/>
<path d="M1065.9,267C1064.1,264.7 1062.6,264.4 1058.8,263.5C1055,262.6 1044.7,260 1042.9,261.7C1041.2,263.5 1047.6,269.1 1048.2,274.1C1048.8,279.1 1046.6,286.2 1046.5,291.7C1046.3,297.3 1048.8,300.6 1047.3,307.6C1045.9,314.7 1039.5,326.7 1037.6,334.1C1035.7,341.4 1036,345.8 1035.9,351.7C1035.7,357.6 1036.2,364.1 1036.8,369.4C1037.3,374.7 1038.1,379.7 1039.4,383.5C1040.7,387.3 1043.1,390 1044.7,392.3C1046.3,394.7 1047.9,395 1049.1,397.6C1050.3,400.2 1050.7,405.8 1051.7,408.2C1052.8,410.5 1050,411 1055.3,411.7C1060.6,412.5 1077.9,412.9 1083.5,412.6C1089.1,412.3 1087,411.9 1088.8,410C1090.6,408 1092.3,405 1094.1,401.1C1095.9,397.3 1097.9,392.3 1099.4,387C1100.9,381.7 1102.2,373.8 1102.9,369.4C1103.7,365 1104.4,364.7 1103.8,360.6C1103.2,356.4 1101,349.1 1099.4,344.7C1097.8,340.3 1096.2,336.4 1094.1,334.1C1092,331.7 1088.8,333.5 1087,330.6C1085.3,327.6 1084.7,321.1 1083.5,316.4C1082.3,311.7 1081.4,306.7 1080,302.3C1078.5,297.9 1076.5,294.1 1074.7,290C1072.9,285.9 1070.9,281.4 1069.4,277.6C1067.9,273.8 1067.6,269.4 1065.9,267Z" fill="#ff0a0a" fill-opacity="0.205"/>
<path d="M1117.9,271.4C1119.8,271.6 1127,270.7 1129.4,272.3C1131.7,273.9 1131.3,276.7 1132,281.2C1132.8,285.6 1133.6,293.8 1133.8,298.8C1133.9,303.8 1134.2,307.6 1132.9,311.1C1131.6,314.7 1127.9,317.9 1125.9,320C1123.8,322 1121.9,321.1 1120.6,323.5C1119.2,325.9 1118.4,332.3 1117.9,334.1Z" fill="#ff0a0a" fill-opacity="0.205"/>
<path d="M1117.9,362.3C1119.5,362.9 1124.5,364.4 1127.6,365.8C1130.7,367.3 1133.8,370.8 1136.4,371.1C1139.1,371.4 1142,366.7 1143.5,367.6C1145,368.5 1144.1,373.2 1145.3,376.4C1146.4,379.7 1150.8,384.7 1150.6,387C1150.3,389.4 1145,388.2 1143.5,390.5C1142,392.9 1142.9,398.2 1141.7,401.1C1140.6,404.1 1138.8,406.7 1136.4,408.2C1134.1,409.7 1130.3,410.5 1127.6,410C1125,409.4 1122.2,406.1 1120.6,404.7C1118.9,403.2 1118.4,401.7 1117.9,401.1Z" fill="#ff0a0a" fill-opacity="0.205"/>
</g>
<g id="brain3">
<use href="#atlas" transform="translate(1856.9,152.3) scale(1.028,1.028) translate(-380.4,-168.1)"/>
<path d="M1802.9,142.6C1801.9,143.5 1798.1,145.2 1796.7,148.2C1795.4,151.2 1795.4,155.9 1795,160.6C1794.5,165.3 1795.1,170.9 1794.1,176.5C1793.1,182 1790.9,189.4 1788.8,194.1C1786.7,198.8 1783.8,201.5 1781.7,204.7C1779.7,207.9 1777.4,209.4 1776.5,213.5C1775.5,217.6 1776.1,224.4 1776.1,229.4C1776.1,234.4 1776.1,239.1 1776.5,243.5C1776.8,247.9 1778.5,252 1778.2,255.9C1777.9,259.7 1775.6,263.2 1774.7,266.4C1773.8,269.7 1774.1,271.7 1772.9,275.3C1771.8,278.8 1769.4,283.5 1767.6,287.6C1765.9,291.7 1763.8,295.6 1762.3,300C1760.9,304.4 1759.5,309.4 1758.8,314.1C1758.1,318.8 1758.2,323.8 1757.9,328.2C1757.6,332.6 1758.4,336.9 1757,340.6C1755.7,344.2 1752.6,346.7 1750,350.1C1747.3,353.4 1743.8,356.8 1741.2,360.7C1738.5,364.5 1736.2,368.9 1734.1,373C1732.1,377.1 1730.1,381 1728.8,385.4C1727.6,389.8 1726.8,395.1 1726.7,399.5C1726.6,403.9 1728.3,407.7 1727.9,411.8C1727.6,415.9 1725.1,419.8 1724.4,424.2C1723.7,428.6 1723.4,433.9 1723.5,438.3C1723.7,442.7 1724.3,447.1 1725.3,450.6C1726.3,454.2 1728.2,455.9 1729.7,459.5C1731.2,463 1732.5,467.7 1734.1,471.8C1735.7,475.9 1737.1,480.1 1739.4,484.2C1741.8,488.3 1745.6,493 1748.2,496.5C1750.9,500.1 1752.6,502.4 1755.3,505.3C1757.9,508.3 1761.2,510.9 1764.1,514.2C1767,517.4 1770,521.2 1772.9,524.8C1775.9,528.3 1779.1,531.8 1781.7,535.3C1784.4,538.9 1786.7,542.7 1788.8,545.9C1790.9,549.2 1792.6,551.8 1794.1,554.7C1795.6,557.7 1795.9,560.9 1797.6,563.6C1799.4,566.2 1802,568.9 1804.7,570.6C1807.3,572.4 1810.6,573.7 1813.5,574.2C1816.4,574.6 1819.7,574.5 1822.3,573.3C1825,572.1 1827,568.7 1829.4,567.1C1831.7,565.5 1833.8,564.5 1836.4,563.6C1839.1,562.7 1842.6,562.5 1845.3,561.8C1847.9,561.1 1850.4,559.9 1852.3,559.2C1854.2,558.4 1856,557.7 1856.7,557.4L1856.7,270C1856,269.4 1853.4,267.6 1852.3,266.4C1851.3,265.3 1851.3,265 1850.6,262.9C1849.8,260.9 1849.1,257.9 1847.9,254.1C1846.7,250.3 1844.5,244.7 1843.5,240C1842.5,235.3 1842.2,231.2 1841.7,225.9C1841.3,220.6 1841,214.1 1840.9,208.2C1840.7,202.3 1841,196.5 1840.9,190.6C1840.7,184.7 1840.9,176.8 1840,172.9C1839.1,169.1 1836.6,169.4 1835.6,167.6C1834.5,165.9 1834.5,162.9 1833.8,162.3C1833.1,161.8 1833.4,165.3 1831.2,164.1C1828.9,162.9 1824.1,158.2 1820.6,155.3C1817,152.3 1812.9,148.6 1810,146.5C1807,144.3 1804.1,143.2 1802.9,142.6" fill="#ff0a0a" fill-opacity="0.205"/>
<path d="M1858.5,150.9C1858.6,150.7 1858.1,150.3 1859.4,150C1860.7,149.7 1864.2,149 1866.4,149.1C1868.6,149.3 1871.3,149 1872.6,150.9C1873.9,152.8 1873.9,157.2 1874.4,160.6C1874.8,164 1874.5,167.9 1875.3,171.2C1876,174.4 1877.3,177.9 1878.8,180C1880.3,182 1881.7,183.5 1884.1,183.5C1886.4,183.5 1890.8,182 1892.9,180C1895,177.9 1894.7,173.2 1896.4,171.2C1898.2,169.1 1900.8,168.1 1903.5,167.6C1906.1,167.2 1910.1,167.1 1912.3,168.5C1914.5,170 1915.5,172.8 1916.7,176.5C1917.9,180.1 1918.3,185.9 1919.4,190.6C1920.4,195.3 1921.6,200.3 1922.9,204.7C1924.2,209.1 1925.5,213.8 1927.3,217C1929.1,220.3 1931.3,222.5 1933.5,224.1C1935.7,225.7 1937.9,226.5 1940.5,226.7C1943.2,227 1947,224.8 1949.4,225.5C1951.7,226.2 1953.6,228.2 1954.7,231.2C1955.7,234.2 1955.5,239.1 1955.5,243.5C1955.5,247.9 1955.7,253.8 1954.7,257.6C1953.6,261.4 1951.7,264.4 1949.4,266.4C1947,268.5 1942.9,267.9 1940.5,270C1938.2,272 1936,275.6 1935.3,278.8C1934.5,282 1935.5,285.3 1936.1,289.4C1936.7,293.5 1938,298.8 1938.8,303.5C1939.5,308.2 1940.4,312.9 1940.5,317.6C1940.7,322.3 1939.7,327 1939.7,331.7C1939.7,336.4 1939.8,341.7 1940.5,345.8C1941.3,350 1942.9,352.3 1944.1,356.4C1945.2,360.5 1946.9,367.8 1947.6,370.5C1948.3,373.3 1948.6,369.7 1948.5,373C1948.3,376.4 1947.5,385.4 1946.7,390.7C1946,396 1945.4,400.7 1944.1,404.8C1942.8,408.9 1940.8,412.7 1938.8,415.4C1936.7,418 1933.5,418.3 1931.7,420.7C1930,423 1929.4,426.2 1928.2,429.5C1927,432.7 1926.1,437.1 1924.7,440.1C1923.2,443 1921.1,444.8 1919.4,447.1C1917.6,449.5 1915.4,451.2 1914.1,454.2C1912.8,457.1 1912,460.6 1911.4,464.8C1910.8,468.9 1911.9,475.1 1910.6,478.9C1909.2,482.7 1906.1,485.3 1903.5,487.7C1900.8,490.1 1896.7,490.3 1894.7,493C1892.6,495.6 1892,499.5 1891.1,503.6C1890.3,507.7 1889.4,513 1889.4,517.7C1889.4,522.4 1890.3,527.4 1891.1,531.8C1892,536.2 1893.5,540.3 1894.7,544.2C1895.8,548 1898.1,550.9 1898.2,554.7C1898.3,558.6 1895.7,563.3 1895.6,567.1C1895.4,570.9 1897.2,573.9 1897.3,577.7C1897.5,581.5 1897.8,587.2 1896.4,590C1895.1,592.8 1891.7,594.2 1889.4,594.4C1887,594.7 1884.2,593.4 1882.3,591.8C1880.4,590.2 1879.2,587.7 1877.9,584.7C1876.6,581.8 1875.4,578 1874.4,574.2C1873.4,570.3 1872.8,566.2 1871.7,561.8C1870.7,557.4 1869.1,552.7 1868.2,547.7C1867.3,542.7 1867,537.4 1866.4,531.8C1865.9,526.2 1865.3,520 1864.7,514.2C1864.1,508.3 1863.4,502.4 1862.9,496.5C1862.5,490.6 1862.3,484.8 1862,478.9C1861.7,473 1861.7,465.2 1861.1,461.2C1860.6,457.3 1858.9,456.2 1858.5,455.2Z" fill="#ff0a0a" fill-opacity="0.205"/>
<path d="M1856.7,270C1856,269.4 1853.6,267.8 1852.3,266.4C1851,265.1 1850.6,262.6 1848.8,262C1847,261.4 1843.5,261.6 1841.7,262.9C1840,264.2 1840,267.9 1838.2,270C1836.4,272 1833.5,273.6 1831.2,275.3C1828.8,276.9 1826.4,279.1 1824.1,279.7C1821.7,280.3 1819.1,279.8 1817,278.8C1815,277.8 1813.2,275.6 1811.7,273.5C1810.3,271.4 1809.7,268.8 1808.2,266.4C1806.7,264.1 1804.7,262 1802.9,259.4C1801.2,256.7 1799.5,253.1 1797.6,250.6C1795.7,248.1 1793.4,245.3 1791.5,244.4C1789.5,243.5 1787.8,243.9 1786.2,245.3C1784.5,246.6 1783.1,249.7 1781.7,252.3C1780.4,255 1779.4,257.3 1778.2,261.2C1777,265 1775.9,270.9 1774.7,275.3C1773.5,279.7 1772.6,283.8 1771.2,287.6C1769.7,291.4 1767.5,294.4 1765.9,298.2C1764.3,302 1762.6,306.4 1761.5,310.6C1760.3,314.7 1759.4,318.5 1758.8,322.9C1758.2,327.3 1757.6,332.6 1757.9,337C1758.2,341.4 1759.3,345.8 1760.6,349.4C1761.9,352.9 1763.8,355.3 1765.9,358.2C1767.9,361.1 1770.9,364.7 1772.9,367C1775,369.4 1776.7,370.4 1778.2,372.3C1779.7,374.2 1780.6,375.2 1781.7,378.3C1782.9,381.4 1784.2,385.7 1785.3,390.7C1786.3,395.7 1786.9,403.3 1787.9,408.3C1789,413.3 1791.3,417.1 1791.5,420.7C1791.6,424.2 1790.1,426.8 1788.8,429.5C1787.5,432.1 1785.6,434.2 1783.5,436.5C1781.5,438.9 1778.4,440.9 1776.5,443.6C1774.5,446.2 1773.5,449.5 1772,452.4C1770.6,455.4 1768.8,457.7 1767.6,461.2C1766.5,464.8 1765.6,469.2 1765,473.6C1764.4,478 1764,483.3 1764.1,487.7C1764.3,492.1 1765,496.2 1765.9,500.1C1766.8,503.9 1767.9,507.4 1769.4,510.6C1770.9,513.9 1772.6,516.8 1774.7,519.5C1776.7,522.1 1779.4,524.2 1781.7,526.5C1784.1,528.9 1786.5,531.5 1788.8,533.6C1791.2,535.6 1793.2,537.7 1795.9,538.9C1798.5,540 1801.7,540.2 1804.7,540.6C1807.6,541.1 1810.6,540.9 1813.5,541.5C1816.4,542.1 1819.7,542.8 1822.3,544.2C1825,545.5 1827.3,547.2 1829.4,549.5C1831.4,551.7 1832.3,555.6 1834.7,557.4C1837,559.2 1840.6,559.9 1843.5,560C1846.4,560.2 1850.1,558.9 1852.3,558.3C1854.5,557.7 1856,556.8 1856.7,556.5Z" fill="#ff0a0a" fill-opacity="0.205"/>
<path d="M1856.7,352.9C1856.3,352.3 1855,351.7 1854.1,349.4C1853.2,347 1852.6,341.4 1851.4,338.8C1850.3,336.1 1848.9,335 1847,333.5C1845.1,332 1842.3,331.4 1840,330C1837.6,328.5 1835.3,326.7 1832.9,324.7C1830.6,322.6 1827.9,320 1825.9,317.6C1823.8,315.3 1822.3,312.5 1820.6,310.6C1818.8,308.6 1817.6,306.7 1815.3,306.1C1812.9,305.6 1809.7,307 1806.5,307C1803.2,307 1798.5,305.6 1795.9,306.1C1793.2,306.7 1792.2,308.9 1790.6,310.6C1789,312.2 1787.6,314.1 1786.2,315.8C1784.7,317.6 1782.9,319.1 1781.7,321.1C1780.6,323.2 1779.5,325 1779.1,328.2C1778.7,331.4 1778.8,336.4 1779.1,340.6C1779.4,344.7 1780.1,348.5 1780.9,352.9C1781.6,357.3 1782.5,362.6 1783.5,367C1784.5,371.4 1785.7,375.2 1787,379.4C1788.4,383.5 1790.3,387.9 1791.5,391.7C1792.6,395.5 1793.7,397.8 1794.1,402.3C1794.5,406.8 1793.8,414.4 1794.1,418.9C1794.4,423.4 1795,425.9 1795.9,429.5C1796.7,433 1798.2,436.5 1799.4,440.1C1800.6,443.6 1802,447.1 1802.9,450.6C1803.8,454.2 1804.2,456.5 1804.7,461.2C1805.1,465.9 1805,473 1805.6,478.9C1806.2,484.8 1806.9,490.6 1808.2,496.5C1809.5,502.4 1812,508.9 1813.5,514.2C1815,519.5 1815.6,524.2 1817,528.3C1818.5,532.4 1820.3,535.6 1822.3,538.9C1824.4,542.1 1827,545.6 1829.4,547.7C1831.7,549.7 1833.8,550.5 1836.4,551.2C1839.1,552 1842.3,552.2 1845.3,552.1C1848.2,552 1852.2,550.8 1854.1,550.3C1856,549.9 1856.3,549.6 1856.7,549.5Z" fill="#ff0a0a" fill-opacity="0.205"/>
<path d="M1791.5,325.6C1792.5,323.8 1794.4,324.1 1795.9,324.7C1797.3,325.3 1799.1,327 1800.3,329.1C1801.5,331.1 1802,334.5 1802.9,337C1803.8,339.5 1804.4,342.3 1805.6,344.1C1806.7,345.8 1807.5,347 1810,347.6C1812.5,348.2 1817,348.2 1820.6,347.6C1824.1,347 1827.9,345.4 1831.2,344.1C1834.4,342.8 1837.3,340.8 1840,339.7C1842.6,338.5 1845.1,336.9 1847,337C1848.9,337.2 1850.3,337.9 1851.4,340.6C1852.6,343.2 1853.5,348.5 1854.1,352.9C1854.7,357.3 1854.8,361.7 1855,367C1855.1,372.3 1855.3,379.7 1855,384.7C1854.7,389.7 1854.2,393.8 1853.2,397C1852.2,400.2 1850.7,402 1848.8,404.1C1846.9,406.1 1844.7,407.7 1841.7,409.4C1838.8,411 1834.7,412.6 1831.2,413.8C1827.6,414.9 1824.1,415.7 1820.6,416.4C1817,417.2 1813.2,418.2 1810,418.2C1806.7,418.2 1803.5,417.6 1801.2,416.4C1798.8,415.2 1796.9,413.5 1795.9,411.1C1794.8,408.8 1795.3,406.7 1795,402.3C1794.7,397.9 1794.5,390.5 1794.1,384.7C1793.7,378.8 1792.9,372.9 1792.3,367C1791.7,361.1 1791,354.7 1790.6,349.4C1790.1,344.1 1789.5,339.2 1789.7,335.3C1789.8,331.3 1790.4,327.3 1791.5,325.6Z" fill="#ff0a0a" fill-opacity="0.205"/>
<path d="M1858.5,166.8C1859.1,166.8 1860.7,166.6 1862,166.8C1863.4,166.9 1864.5,166.9 1866.4,167.6C1868.4,168.4 1871.7,169.1 1873.5,171.2C1875.3,173.2 1875.9,176.8 1877,180C1878.2,183.2 1879.4,187.6 1880.6,190.6C1881.7,193.5 1882.6,195.6 1884.1,197.6C1885.6,199.7 1887.5,202.3 1889.4,202.9C1891.3,203.5 1893.8,201.8 1895.6,201.2C1897.3,200.6 1898.1,198.8 1900,199.4C1901.9,200 1905.1,202.6 1907,204.7C1908.9,206.7 1910.6,209.4 1911.4,211.7C1912.3,214.1 1912.8,216.5 1912.3,218.8C1911.9,221.2 1910,222.9 1908.8,225.9C1907.6,228.8 1906.1,232.3 1905.3,236.5C1904.4,240.6 1903.9,245.9 1903.5,250.6C1903.1,255.3 1902.9,260 1902.6,264.7C1902.3,269.4 1901.9,273.5 1901.7,278.8C1901.6,284.1 1900.8,293.2 1901.7,296.4C1902.6,299.7 1905.3,296.4 1907,298.2C1908.8,300 1910.8,303.8 1912.3,307C1913.8,310.3 1914.7,313.5 1915.8,317.6C1917,321.7 1918.2,327.9 1919.4,331.7C1920.5,335.6 1921.4,337.9 1922.9,340.6C1924.4,343.2 1927,345 1928.2,347.6C1929.4,350.3 1929.8,352.5 1930,356.4C1930.1,360.4 1929.1,365.5 1929.1,371.3C1929.1,377 1930,385.1 1930,390.7C1930,396.2 1929.7,400.7 1929.1,404.8C1928.5,408.9 1928.3,412.9 1926.4,415.4C1924.5,417.9 1920.3,419.2 1917.6,419.8C1915,420.4 1912,417.9 1910.6,418.9C1909.1,419.9 1908.8,422.4 1908.8,425.9C1908.8,429.5 1910.4,435.7 1910.6,440.1C1910.7,444.5 1910,448 1909.7,452.4C1909.4,456.8 1909.5,462.1 1908.8,466.5C1908.1,470.9 1907,475.6 1905.3,478.9C1903.5,482.1 1900.3,484.2 1898.2,485.9C1896.1,487.7 1894.4,487.1 1892.9,489.5C1891.4,491.8 1890.1,494.5 1889.4,500.1C1888.6,505.6 1888.5,516.2 1888.5,523C1888.5,529.8 1888.9,535.3 1889.4,540.6C1889.8,545.9 1890.6,550.3 1891.1,554.7C1891.7,559.2 1892.3,562.7 1892.9,567.1C1893.5,571.5 1895,577.7 1894.7,581.2C1894.4,584.7 1892.6,587.7 1891.1,588.3C1889.7,588.9 1887.3,587.4 1885.8,584.7C1884.4,582.1 1883.2,576.8 1882.3,572.4C1881.4,568 1881.1,563.6 1880.6,558.3C1880,553 1878.9,546.5 1878.8,540.6C1878.6,534.8 1879.7,528.9 1879.7,523C1879.7,517.1 1879.2,511.2 1878.8,505.3C1878.3,499.5 1877.9,493.6 1877,487.7C1876.1,481.8 1875.1,474.5 1873.5,470.1C1871.9,465.6 1869.2,463.7 1867.3,461.2C1865.4,458.8 1863.5,456.8 1862,455.2C1860.6,453.6 1859.1,452.3 1858.5,451.7Z" fill="#ff0a0a" fill-opacity="0.205"/>
<path d="M1858.5,168.5C1859.1,168.5 1860.4,167.8 1862,168.5C1863.6,169.3 1866.4,170.7 1868.2,172.9C1870,175.1 1871.6,178.2 1872.6,181.8C1873.6,185.3 1874.2,189.7 1874.4,194.1C1874.5,198.5 1873.8,202.9 1873.5,208.2C1873.2,213.5 1873.1,220 1872.6,225.9C1872.2,231.7 1871.6,238.2 1870.9,243.5C1870.1,248.8 1868.9,253.2 1868.2,257.6C1867.5,262 1866.1,265 1866.4,270C1866.7,275 1868.5,282.6 1870,287.6C1871.4,292.6 1873.5,298.4 1875.3,300C1877,301.6 1878.2,297.9 1880.6,297.3C1882.9,296.7 1886.7,296 1889.4,296.4C1892,296.9 1894.4,297.9 1896.4,300C1898.5,302 1900.4,305 1901.7,308.8C1903.1,312.6 1903.2,318.2 1904.4,322.9C1905.6,327.6 1907.6,332.6 1908.8,337C1910,341.4 1910.8,344.4 1911.4,349.4C1912,354.4 1912.5,361.1 1912.3,367C1912.2,372.9 1911.1,378.8 1910.6,384.7C1910,390.5 1908.9,396.4 1908.8,402.3C1908.6,408.2 1909.7,414.1 1909.7,419.9C1909.7,425.8 1909.1,432 1908.8,437.6C1908.5,443.2 1912,450.5 1907.9,453.5C1903.8,456.4 1891.7,455.1 1884.1,455.2C1876.4,455.4 1866.3,454.9 1862,454.4C1857.8,453.8 1859.1,452.1 1858.5,451.7Z" fill="#ff0a0a" fill-opacity="0.205"/>
<path d="M1858.5,350.1C1858.8,347 1859.2,336.6 1860.3,331.7C1861.3,326.9 1863.1,324.4 1864.7,321.1C1866.3,317.9 1868.2,315.3 1870,312.3C1871.7,309.4 1873.5,305.9 1875.3,303.5C1877,301.1 1878.2,299.4 1880.6,298.2C1882.9,297 1886.7,296.1 1889.4,296.4C1892,296.7 1894.7,297.9 1896.4,300C1898.2,302 1899.1,305 1900,308.8C1900.8,312.6 1901,318.1 1901.7,322.9C1902.5,327.7 1903.3,333.2 1904.4,337.7C1905.4,342.3 1906.9,345.7 1907.9,350.1C1908.9,354.5 1910,359.8 1910.6,364.2C1911.1,368.6 1911.7,372.4 1911.4,376.5C1911.1,380.7 1910.1,385.7 1908.8,388.9C1907.5,392.1 1905.6,394.5 1903.5,396C1901.4,397.4 1898.2,398.6 1896.4,397.7C1894.7,396.8 1893.8,393.3 1892.9,390.7C1892,388 1892.3,384.2 1891.1,381.8C1890,379.5 1887.9,377.3 1885.8,376.5C1883.8,375.8 1881.1,376.5 1878.8,377.4C1876.4,378.3 1873.8,381.7 1871.7,381.8C1869.7,382 1868.1,380.1 1866.4,378.3C1864.8,376.5 1863.2,373.6 1862,371.3C1860.9,368.9 1859.8,365.4 1859.4,364.2Z" fill="#ff0a0a" fill-opacity="0.205"/>
</g>
<g id="chart">
<rect x="578" y="1846.5" width="120.4" height="219.5" fill="#ffffff" stroke="#000" stroke-width="4" stroke-linejoin="round"/>
<rect x="732.4" y="1871.4" width="120.4" height="194.6" fill="#d9d9d9" stroke="#000" stroke-width="4" stroke-linejoin="round"/>
<rect x="886.8" y="1767" width="120.4" height="299" fill="#808080" stroke="#000" stroke-width="4" stroke-linejoin="round"/>
<rect x="1041.2" y="1913" width="120.4" height="153" fill="#ffff00" stroke="#000" stroke-width="4" stroke-linejoin="round"/>
<rect x="1424.8" y="1659.3" width="119.6" height="406.7" fill="#ffffff" stroke="#000" stroke-width="4" stroke-linejoin="round"/>
<rect x="1578.8" y="1705.2" width="119.6" height="360.8" fill="#d9d9d9" stroke="#000" stroke-width="4" stroke-linejoin="round"/>
<rect x="1732.8" y="1517.4" width="119.6" height="548.6" fill="#808080" stroke="#000" stroke-width="4" stroke-linejoin="round"/>
<rect x="1886.8" y="1554.6" width="119.6" height="511.4" fill="#ffff00" stroke="#000" stroke-width="4" stroke-linejoin="round"/>
<rect x="442.2" y="1257.4" width="6.4" height="811.8" fill="#000"/>
<rect x="445" y="2063.7" width="1695" height="4.6" fill="#000"/>
<rect x="410.5" y="1257.2" width="35" height="6.4" fill="#000"/>
<rect x="410.5" y="1659.8" width="35" height="6.4" fill="#000"/>
<rect x="410.5" y="2062.8" width="35" height="6.4" fill="#000"/>
<rect x="635" y="1818.2" width="7" height="52.6" fill="#000"/>
<rect x="625.5" y="1818.2" width="26" height="6.4" fill="#000"/>
<rect x="625.5" y="1864.4" width="26" height="6.4" fill="#000"/>
<rect x="788.7" y="1831" width="7" height="77.9" fill="#000"/>
<rect x="779.2" y="1831" width="26" height="6.4" fill="#000"/>
<rect x="779.2" y="1902.5" width="26" height="6.4" fill="#000"/>
<rect x="942.5" y="1720.3" width="7" height="91.2" fill="#000"/>
<rect x="933" y="1720.3" width="26" height="6.4" fill="#000"/>
<rect x="933" y="1805.1" width="26" height="6.4" fill="#000"/>
<rect x="1095.9" y="1883.6" width="7" height="62.2" fill="#000"/>
<rect x="1086.4" y="1883.6" width="26" height="6.4" fill="#000"/>
<rect x="1086.4" y="1939.4" width="26" height="6.4" fill="#000"/>
<rect x="1481.5" y="1634.6" width="7" height="44.2" fill="#000"/>
<rect x="1472" y="1634.6" width="26" height="6.4" fill="#000"/>
<rect x="1472" y="1672.4" width="26" height="6.4" fill="#000"/>
<rect x="1635.5" y="1660.2" width="7" height="93" fill="#000"/>
<rect x="1626" y="1660.2" width="26" height="6.4" fill="#000"/>
<rect x="1626" y="1746.8" width="26" height="6.4" fill="#000"/>
<rect x="1789.5" y="1469.7" width="7" height="93" fill="#000"/>
<rect x="1780" y="1469.7" width="26" height="6.4" fill="#000"/>
<rect x="1780" y="1556.3" width="26" height="6.4" fill="#000"/>
<rect x="1943" y="1532.2" width="7" height="45.6" fill="#000"/>
<rect x="1933.5" y="1532.2" width="26" height="6.4" fill="#000"/>
<rect x="1933.5" y="1571.4" width="26" height="6.4" fill="#000"/>
<path d="M644.6,1630.2 L644.6,1595.2 L943.3,1596.4 L943.3,1632.8" fill="none" stroke="#000" stroke-width="6.4" stroke-linejoin="miter"/>
<path d="M794.2,1695.9 L794.2,1667.4 L936,1668 L936,1697.9" fill="none" stroke="#000" stroke-width="6.4" stroke-linejoin="miter"/>
<path d="M946.8,1697.9 L946.8,1669.2 L1099.6,1670 L1099.6,1699.6" fill="none" stroke="#000" stroke-width="6.4" stroke-linejoin="miter"/>
<path d="M1483.9,1154.4 L1483.9,1131.9 L1930.8,1133 L1930.8,1155.9" fill="none" stroke="#000" stroke-width="6.4" stroke-linejoin="miter"/>
<path d="M1646.6,1248.3 L1646.6,1225.8 L1941.3,1226.4 L1941.3,1249.5" fill="none" stroke="#000" stroke-width="6.4" stroke-linejoin="miter"/>
<path d="M1504.8,1349.7 L1504.8,1317.3 L1790.8,1317.8 L1790.8,1351.5" fill="none" stroke="#000" stroke-width="6.4" stroke-linejoin="miter"/>
<path d="M1643.2,1381.7 L1643.2,1347 L1949.1,1347.8 L1949.1,1384" fill="none" stroke="#000" stroke-width="6.4" stroke-linejoin="miter"/>
<path d="M1640.8,1446.5 L1640.8,1419.8 L1790.2,1420.2 L1790.2,1448.5" fill="none" stroke="#000" stroke-width="6.4" stroke-linejoin="miter"/>
<text transform="translate(795,1601.4) scale(1,1.000)" font-size="96.6" class="b" text-anchor="middle" letter-spacing="5.1">*</text>
<text transform="translate(874.1,1680.1) scale(1,1.000)" font-size="96.6" class="b" text-anchor="middle" letter-spacing="5.1">*</text>
<text transform="translate(1028.4,1679.2) scale(1,1.000)" font-size="96.6" class="b" text-anchor="middle" letter-spacing="5.1">**</text>
<text transform="translate(1707,1152.9) scale(1,1.000)" font-size="96.6" class="b" text-anchor="middle" letter-spacing="5.1">**</text>
<text transform="translate(1798.1,1236.3) scale(1,1.000)" font-size="96.6" class="b" text-anchor="middle" letter-spacing="5.1">*</text>
<text transform="translate(1651.3,1327.3) scale(1,1.000)" font-size="96.6" class="b" text-anchor="middle" letter-spacing="5.1">**</text>
<text transform="translate(1861.3,1362.2) scale(1,1.000)" font-size="96.6" class="b" text-anchor="middle" letter-spacing="5.1">**</text>
<text transform="translate(1719.2,1430.9) scale(1,1.000)" font-size="96.6" class="b" text-anchor="middle" letter-spacing="5.1">***</text>
<rect x="489.1" y="1082.5" width="47" height="47" fill="#ffffff" stroke="#000" stroke-width="4" stroke-linejoin="round"/>
<text transform="translate(557.6,1135.5) scale(1,1.044)" font-size="86.7" stroke="#000" stroke-width="1.1">Saline</text>
<rect x="489.1" y="1190" width="47" height="47" fill="#d9d9d9" stroke="#000" stroke-width="4" stroke-linejoin="round"/>
<text transform="translate(557.6,1243) scale(1,1.044)" font-size="86.7" stroke="#000" stroke-width="1.1">PG</text>
<rect x="489.1" y="1297.5" width="47" height="47" fill="#808080" stroke="#000" stroke-width="4" stroke-linejoin="round"/>
<text transform="translate(557.6,1350.5) scale(1,1.044)" font-size="86.7" stroke="#000" stroke-width="1.1">PG + WMGD</text>
<rect x="489.1" y="1405" width="47" height="47" fill="#ffff00" stroke="#000" stroke-width="4" stroke-linejoin="round"/>
<text transform="translate(557.6,1458) scale(1,1.044)" font-size="86.7" stroke="#000" stroke-width="1.1">IVM (10mg/kg) + WMGD</text>
<text transform="translate(279.7,1298.8) scale(1.064,1.010)" font-size="108" stroke="#000" stroke-width="1.4">2</text>
<text transform="translate(282,1701.1) scale(1.064,1.010)" font-size="108" stroke="#000" stroke-width="1.4">1</text>
<text transform="translate(279,2104) scale(1.064,1.010)" font-size="108" stroke="#000" stroke-width="1.4">0</text>
<text transform="translate(220.8,0) rotate(-90) scale(1,1.044)" font-size="86" stroke="#000" stroke-width="1.1"><tspan x="-2173.9" letter-spacing="0.4">Grams</tspan> <tspan x="-1895.1" letter-spacing="1.1">consumed</tspan> <tspan x="-1465">(25-48</tspan> <tspan x="-1192.8">h)</tspan></text>
<text transform="translate(853.5,2238.3) scale(1,1.044)" font-size="108" text-anchor="middle" stroke="#000" stroke-width="1.4">Sucrose</text>
<text transform="translate(1714.5,2239) scale(1,1.044)" font-size="108" text-anchor="middle" stroke="#000" stroke-width="1.4">Fat</text>
<text transform="translate(53.3,92.7) scale(1,1.075)" font-size="124" stroke="#000" stroke-width="1.6">A</text>
<text transform="translate(53.5,1016.4) scale(1.065,1.075)" font-size="124" stroke="#000" stroke-width="1.6">B</text>
<text transform="translate(377,98) scale(1,1.044)" font-size="65" text-anchor="middle" stroke="#000" stroke-width="0.8">PG</text>
<text transform="translate(1127.5,100.6) scale(1,1.044)" font-size="65" text-anchor="middle" stroke="#000" stroke-width="0.8">PG + WMGD</text>
<text transform="translate(1872,90) scale(1,1.044)" font-size="65" text-anchor="middle" stroke="#000" stroke-width="0.8">IVM + WMGD</text>
<text transform="translate(102.4,818.5) scale(1,1.044)" font-size="65" stroke="#000" stroke-width="0.8">Bregma 1.78 mm</text>
<text transform="translate(275.4,282) scale(1,1.044)" font-size="65" stroke="#000" stroke-width="0.8">Cg<tspan dx="6.6" textLength="25.3" lengthAdjust="spacingAndGlyphs">1</tspan></text>
<text transform="translate(321.2,353.3) scale(1,1.044)" font-size="65" stroke="#000" stroke-width="0.8">IL</text>
<text transform="translate(288.7,408) scale(1,1.044)" font-size="65" stroke="#000" stroke-width="0.8">PrL</text>
<text transform="translate(297,469.6) scale(1,1.044)" font-size="65" stroke="#000" stroke-width="0.8">DP</text>
</g>
</svg>
</body></html>
